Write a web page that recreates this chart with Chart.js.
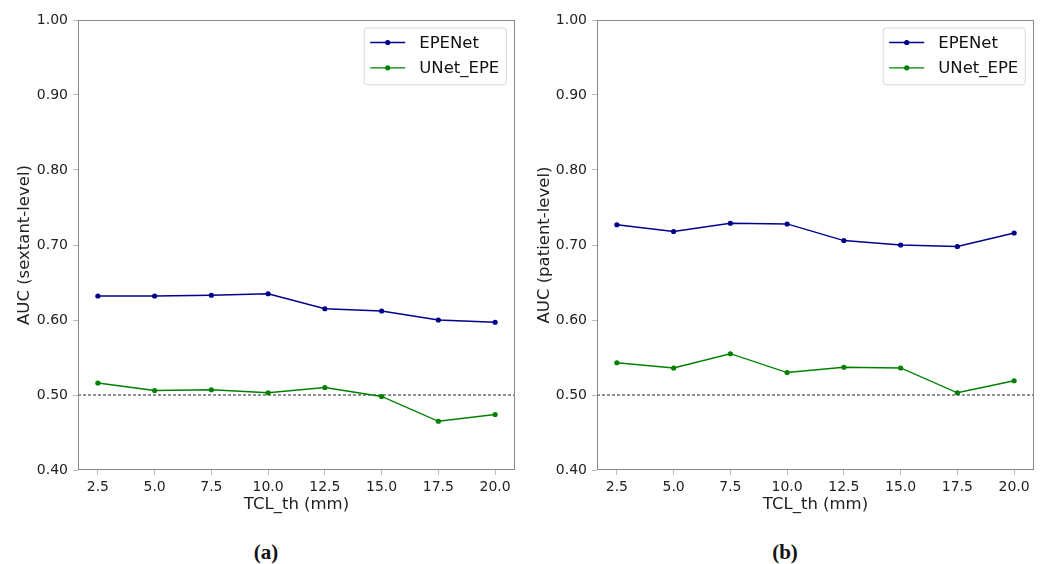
<!DOCTYPE html>
<html>
<head>
<meta charset="utf-8">
<script src="https://cdn.jsdelivr.net/npm/chart.js@4.4.1/dist/chart.umd.min.js"></script>
<style>
  body { margin: 0; background: #fff; }
  #wrap { position: relative; width: 1043px; height: 564px; }
  canvas { position: absolute; top: 0; }
  .cap { position: absolute; top: 540px; width: 60px; text-align: center;
         font: bold 21px "Liberation Serif", "DejaVu Serif", serif; color: #111; }
</style>
</head>
<body>
<div id="wrap">
  <canvas id="chartA" width="521" height="521" style="left:0"></canvas>
  <canvas id="chartB" width="523" height="521" style="left:520px"></canvas>
  <div class="cap" style="left:236px">(a)</div>
  <div class="cap" style="left:755px">(b)</div>
</div>
<script>
// x values (TCL threshold, mm)
const thresholds = [2.5, 5.0, 7.5, 10.0, 12.5, 15.0, 17.5, 20.0];

// (a) sextant-level AUC
const sextantEPENet = [0.632, 0.632, 0.633, 0.635, 0.615, 0.612, 0.600, 0.597];
const sextantUNet   = [0.516, 0.506, 0.507, 0.503, 0.510, 0.498, 0.465, 0.474];

// (b) patient-level AUC
const patientEPENet = [0.727, 0.718, 0.729, 0.728, 0.706, 0.700, 0.698, 0.716];
const patientUNet   = [0.543, 0.536, 0.555, 0.530, 0.537, 0.536, 0.503, 0.519];

const yTicks = [0.4, 0.5, 0.6, 0.7, 0.8, 0.9, 1.0];
const xRange = [1.625, 20.875];
const chanceLevel = 0.5;

const FONT = '"DejaVu Sans", sans-serif';

// box around the plot area, like matplotlib spines
const framePlugin = {
    id: 'frame',
    afterDraw(chart) {
        const a = chart.chartArea, ctx = chart.ctx;
        ctx.save();
        ctx.strokeStyle = '#888';
        ctx.lineWidth = 1;
        ctx.strokeRect(Math.round(a.left) + 0.5, Math.round(a.top) + 0.5,
                       Math.round(a.width) - 1, Math.round(a.height) - 1);
        ctx.restore();
    }
};

// legend drawn inside the plot, upper right
const insideLegend = {
    id: 'insideLegend',
    afterDraw(chart) {
        const ctx = chart.ctx, a = chart.chartArea;
        const items = chart.data.datasets.filter(d => d.label);
        ctx.save();
        ctx.font = '16.5px ' + FONT;
        const textW = Math.max(...items.map(d => ctx.measureText(d.label).width));
        const w = 6 + 35 + 14 + textW + 7;
        const h = 14.5 + 25.3 * (items.length - 1) + 17;
        const x = a.right - 8.7 - w, y = a.top + 8;
        ctx.beginPath();
        ctx.roundRect(x, y, w, h, 3);
        ctx.fillStyle = 'rgba(255,255,255,0.8)';
        ctx.fill();
        ctx.strokeStyle = '#d8d8d8';
        ctx.lineWidth = 1;
        ctx.stroke();
        items.forEach((d, i) => {
            const cy = y + 14.5 + i * 25.3;
            ctx.strokeStyle = d.borderColor;
            ctx.lineWidth = 1.3;
            ctx.beginPath();
            ctx.moveTo(x + 6, cy);
            ctx.lineTo(x + 41, cy);
            ctx.stroke();
            ctx.fillStyle = d.borderColor;
            ctx.beginPath();
            ctx.arc(x + 23.5, cy, 2.6, 0, Math.PI * 2);
            ctx.fill();
            ctx.fillStyle = '#111';
            ctx.textBaseline = 'middle';
            ctx.fillText(d.label, x + 55, cy + 1);
        });
        ctx.restore();
    }
};

function points(values) {
    return thresholds.map((t, i) => ({ x: t, y: values[i] }));
}

function makeChart(id, yLabel, epenet, unet, yAxisWidth, padRight) {
    const ctx = document.getElementById(id).getContext('2d');
    return new Chart(ctx, {
        type: 'line',
        data: {
            datasets: [
                {
                    label: 'EPENet',
                    data: points(epenet),
                    borderColor: '#00008b',
                    backgroundColor: '#00008b',
                    borderWidth: 1.3,
                    pointRadius: 2.6,
                    pointBorderWidth: 0,
                    tension: 0
                },
                {
                    label: 'UNet_EPE',
                    data: points(unet),
                    borderColor: '#008000',
                    backgroundColor: '#008000',
                    borderWidth: 1.3,
                    pointRadius: 2.6,
                    pointBorderWidth: 0,
                    tension: 0
                },
                {
                    // chance level reference line
                    label: '',
                    data: xRange.map(x => ({ x: x, y: chanceLevel })),
                    borderColor: '#222',
                    borderWidth: 1,
                    borderDash: [3, 2],
                    pointRadius: 0
                }
            ]
        },
        options: {
            responsive: false,
            animation: false,
            layout: { padding: { top: 20, right: padRight, bottom: 0, left: 0 } },
            scales: {
                x: {
                    type: 'linear',
                    min: xRange[0],
                    max: xRange[1],
                    afterBuildTicks: s => { s.ticks = thresholds.map(v => ({ value: v })); },
                    afterFit: s => { s.height = 51; },
                    grid: { drawOnChartArea: false, drawTicks: true, tickLength: 5, color: '#bbb' },
                    border: { display: false },
                    ticks: {
                        font: { family: FONT, size: 14 },
                        color: '#222',
                        padding: 4,
                        maxRotation: 0,
                        callback: v => v.toFixed(1)
                    },
                    title: {
                        display: true,
                        text: 'TCL_th (mm)',
                        font: { family: FONT, size: 16.5 },
                        color: '#222',
                        padding: { top: 0, bottom: 6 }
                    }
                },
                y: {
                    min: yTicks[0],
                    max: yTicks[yTicks.length - 1],
                    afterBuildTicks: s => { s.ticks = yTicks.map(v => ({ value: v })); },
                    afterFit: s => { s.width = yAxisWidth; },
                    grid: { drawOnChartArea: false, drawTicks: true, tickLength: 5, color: '#bbb' },
                    border: { display: false },
                    ticks: {
                        font: { family: FONT, size: 14 },
                        color: '#222',
                        padding: 5,
                        callback: v => v.toFixed(2)
                    },
                    title: {
                        display: true,
                        text: yLabel,
                        font: { family: FONT, size: 16.5 },
                        color: '#222',
                        padding: { top: 15, bottom: 0 }
                    }
                }
            },
            plugins: {
                legend: { display: false },
                tooltip: { enabled: false }
            }
        },
        plugins: [framePlugin, insideLegend]
    });
}

makeChart('chartA', 'AUC (sextant-level)', sextantEPENet, sextantUNet, 78, 6);
makeChart('chartB', 'AUC (patient-level)', patientEPENet, patientUNet, 77, 9);
</script>
</body>
</html>
